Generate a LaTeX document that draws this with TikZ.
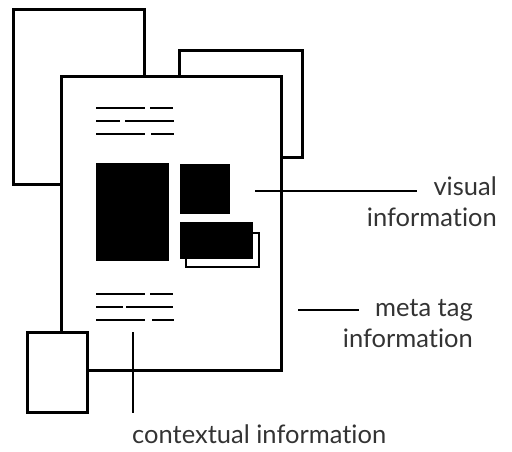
\documentclass[tikz,border=0pt]{standalone}
\usepackage{fontspec}
\setmainfont{Lato}[Ligatures={NoCommon,NoRare}]
\begin{document}
\begin{tikzpicture}[x=1pt,y=-1pt,
  box/.style={draw=black, fill=white, line width=3pt, inner sep=0pt, outer sep=0pt, anchor=north west},
  blk/.style={fill=black, inner sep=0pt, outer sep=0pt, anchor=north west},
  txtline/.style={line width=2.8pt},
  conn/.style={line width=2.8pt},
  lbl/.style={font=\fontsize{25.5}{31}\selectfont, text=black!80, inner sep=0pt, align=right}
]
\useasboundingbox (0,0) rectangle (512,451);
% back pages
\node[box, minimum width=131pt, minimum height=175pt] (backL) at (13,9) {};
\node[box, minimum width=123pt, minimum height=107pt] (backR) at (179,50) {};
% main page
\node[box, minimum width=220pt, minimum height=294pt] (page) at (61,76) {};
% small page
\node[box, minimum width=60pt, minimum height=80pt] (small) at (27,332) {};
% top text lines
\draw[txtline] (96,108) -- (145,108) (150,108) -- (173,108);
\draw[txtline] (96,121) -- (120,121) (125,121) -- (174,121);
\draw[txtline] (96,134) -- (145,134) (151,134) -- (174,134);
% bottom text lines
\draw[txtline] (96,294) -- (145,294) (150,294) -- (173,294);
\draw[txtline] (96,307) -- (123,307) (126,307) -- (173,307);
\draw[txtline] (96,320) -- (145,320) (152,320) -- (174,320);
% images
\node[blk, minimum width=73pt, minimum height=98pt] (img1) at (96,163) {};
\node[blk, minimum width=50pt, minimum height=50pt] (img2) at (180,164) {};
\node[draw=black, line width=2pt, fill=white, inner sep=0pt, outer sep=0pt, anchor=north west, minimum width=73pt, minimum height=34pt] (img3b) at (186,233) {};
\node[blk, minimum width=73pt, minimum height=37pt] (img3) at (180,222) {};
% connectors
\coordinate (v1) at (255,191);
\coordinate (v2) at (417,191);
\draw[conn] (v1) -- (v2);
\coordinate (m1) at (298,310);
\coordinate (m2) at (359,310);
\draw[conn] (m1) -- (m2);
\coordinate (c1) at (133,332);
\coordinate (c2) at (133,413);
\draw[conn] (c1) -- (c2);
% labels
\node[lbl, anchor=base east] (lv) at (497,226) {visual\\information};
\node[lbl, anchor=base east] (lm) at (473,347) {meta tag\\information};
\node[lbl, anchor=base west] (lc) at (132,443) {contextual information};
\end{tikzpicture}
\end{document}
